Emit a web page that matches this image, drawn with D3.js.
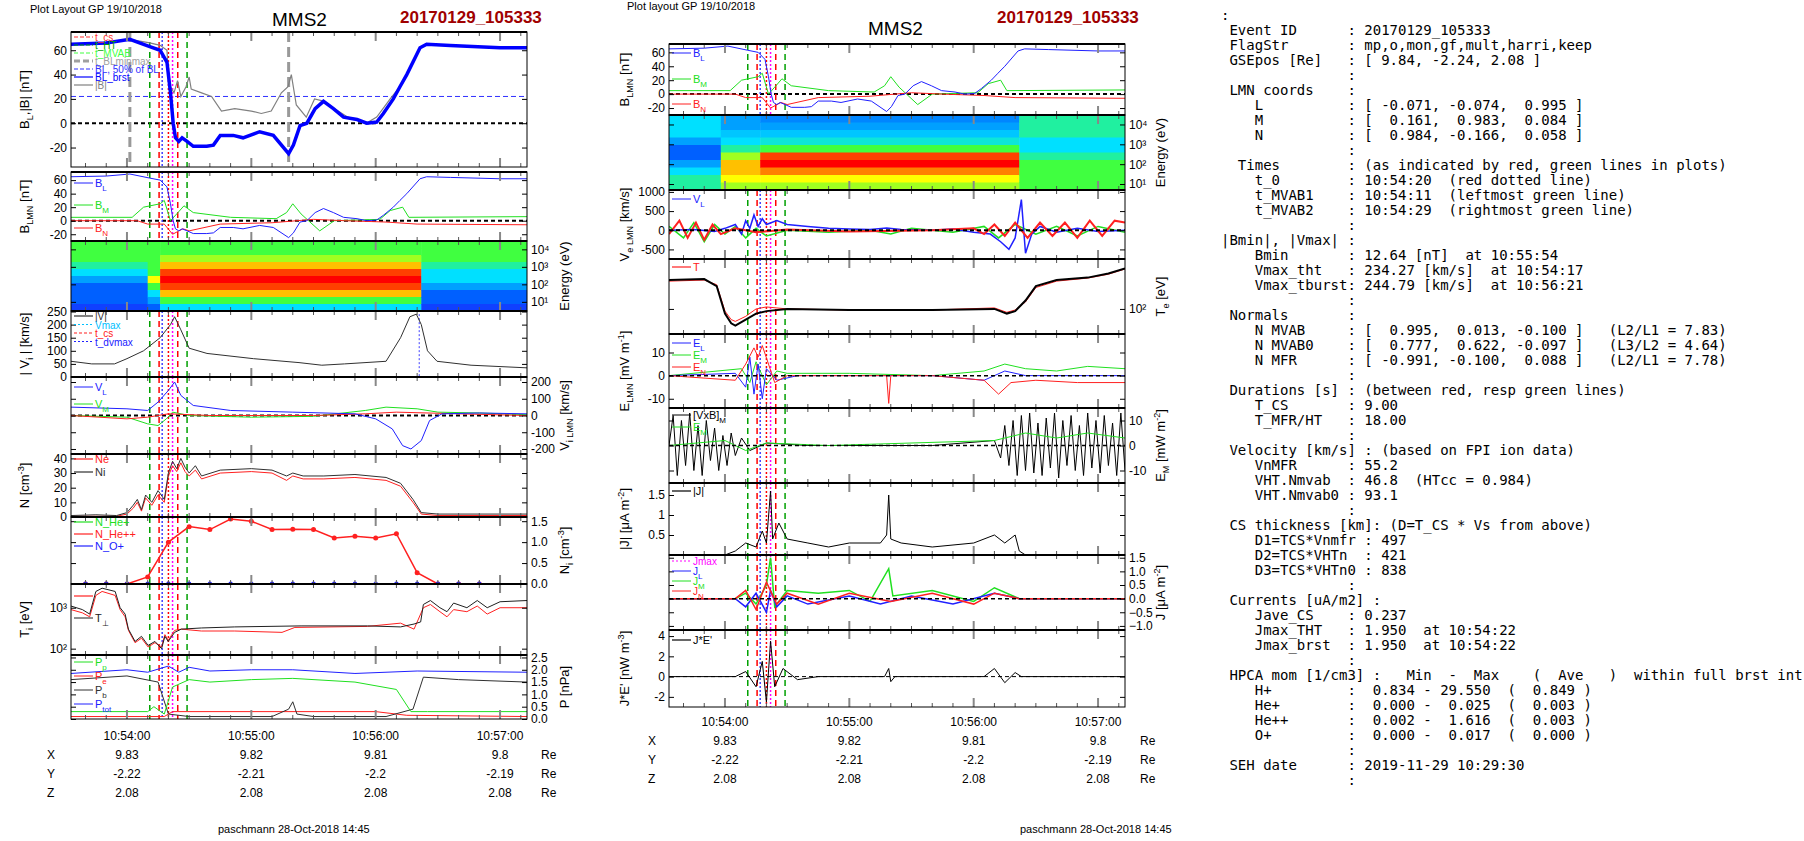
<!DOCTYPE html>
<html><head><meta charset="utf-8">
<script src="https://cdn.jsdelivr.net/npm/d3@7"></script>
<style>body{margin:0;background:#fff}svg{font-family:"Liberation Sans",Arial,sans-serif}</style>
</head><body><svg id="c" width="1804" height="841"></svg>
<script>
// ---------- data (time in seconds from 10:54:00) ----------
const timeTicks = [0, 60, 120, 180];
const timeLabels = ["10:54:00", "10:55:00", "10:56:00", "10:57:00"];
const posX = ["9.83", "9.82", "9.81", "9.8"];
const posY = ["-2.22", "-2.21", "-2.2", "-2.19"];
const posZ = ["2.08", "2.08", "2.08", "2.08"];

const BL = [[-27,65],[-10,66],[1.4,69],[11,63],[16,60],[19.3,50],[21,25],[22.3,0],[23.4,-12],[25,-15],[26.6,-12],[29,-15],[32,-19],[38.5,-19],[41.7,-18],[45,-10],[51.3,-10],[56,-12],[64,-7],[70.6,-10],[78,-25],[80.3,-18],[83.5,-2],[86.8,0],[90.8,12],[94.8,18],[99.6,12],[104.5,5],[111,3],[115.7,0],[120.5,1],[123.7,8],[128.5,20],[131.7,30],[135,40],[141.4,62],[144.6,65],[156,64],[180,62],[193,62]];
const Bmag = [[-27,65],[-10,66],[1.4,69],[11,66],[16,64],[19.3,60],[20,40],[21,30],[22.7,25],[24.4,35],[26,22],[28.5,30],[30,38],[31,28],[36,25],[40.8,22],[45.6,10],[52,12],[60,10],[64.8,8],[69.6,10],[74.5,25],[77.7,30],[79.3,40],[81.7,15],[86.5,5],[90.5,20],[95.3,18],[100,12],[106.6,5],[113,2],[116,0.5],[120.5,5],[127,20],[131.7,30],[135,40],[141.4,62],[144.6,65],[156,64],[180,62],[193,62]];
const BM = [[-27,5],[2.5,5],[8,20],[16,25],[18,30],[21,0],[24,10],[27.5,22],[32,12],[50,5],[72,3],[77,12],[80,25],[84,10],[93,-15],[100,0],[122,2],[127,15],[133,20],[136,5],[193,6]];
const BN = [[-27,0],[5,0],[10,-5],[18,-5],[22,-20],[27,-12],[30,-15],[45,-5],[70,-3],[90,2],[105,0],[125,-2],[140,-5],[193,-6]];
const Vabs = [[-27,60],[-17,50],[-6,50],[0,70],[8,100],[16,150],[21,200],[23,230],[26,180],[30,110],[38.6,90],[61,70],[83,55],[94,45],[105,50],[125,60],[132,150],[136.5,230],[139.6,240],[142,200],[145,100],[149.6,60],[166,45],[193,35]];
const VL = [[-27,50],[0,40],[10,30],[15,80],[20,150],[23,200],[26,120],[32,60],[50,30],[80,20],[110,10],[120,-20],[128,-80],[133,-180],[137,-200],[142,-150],[146,-30],[152,10],[170,15],[193,10]];
const VM = [[-27,0],[0,-10],[10,-50],[15,-60],[19,-20],[22,20],[30,0],[60,-10],[90,-5],[115,30],[125,50],[140,40],[150,20],[170,15],[193,5]];
const VN = [[-27,0],[0,-20],[10,-10],[20,10],[40,0],[90,0],[115,10],[130,20],[160,10],[193,0]];
const Ni = [[-27,1],[-15,1.5],[-5,1],[0,3],[3,8],[5,12],[7,5],[9,15],[12,10],[15,18],[18,12],[20,30],[22,38],[24,33],[26,40],[28,34],[30,30],[33,35],[36,28],[45,32],[60,33],[70,32],[77,28],[80,30],[85,28],[95,28],[110,29],[125,27],[132,23],[138,12],[142,3],[150,2],[193,2]];
const Ne = [[-27,0.5],[-15,0.5],[-5,0.5],[0,2],[3,6],[5,10],[7,4],[9,13],[12,8],[15,15],[18,10],[20,28],[22,35],[24,31],[26,37],[28,31],[30,28],[33,32],[36,26],[45,30],[60,31],[70,30],[77,25],[80,28],[85,26],[95,26],[110,27],[125,25],[132,21],[138,10],[142,2],[150,1],[193,1]];
const hpcaT = [-20,-10,0,10,20,30,40,50,60,70,80,90,100,110,120,130,140,150,160,170];
const NHepp = [0,0,0,0.17,1.0,1.37,1.3,1.55,1.5,1.3,1.31,1.3,1.1,1.14,1.1,1.2,0.27,0,0,0];
const NOp = [0.005,0.005,0.005,0.005,0.005,0.005,0.005,0.005,0.005,0.005,0.005,0.005,0.005,0.005,0.005,0.005,0.005,0.005,0.005,0.005];
const TiPerp = [[-27,1100],[-21.5,900],[-18,700],[-15,2500],[-12,3000],[-5.7,2500],[-3.3,1000],[-0.9,700],[0.7,300],[3.9,150],[7,200],[10.2,120],[13.5,150],[16.7,100],[18.3,200],[19.9,150],[23,250],[26.2,300],[35.9,320],[52,340],[84,360],[116,360],[132,340],[138.5,400],[141.7,450],[143,1200],[146.4,1500],[151,1000],[154.4,800],[157.6,1300],[164,1000],[169,1500],[173.8,1000],[180,1400],[193,1500]];
const TiPar = [[-27,900],[-21.5,750],[-18,600],[-15,2000],[-12,2500],[-5.7,2000],[-3.3,900],[-0.9,600],[0.7,280],[3.9,140],[7,180],[10.2,110],[13.5,140],[16.7,110],[18.3,220],[19.9,160],[23,280],[26.2,300],[35.9,270],[52,270],[74.8,250],[81,330],[116,350],[132,420],[138.5,300],[143,1000],[146.4,1200],[151,800],[154.4,600],[157.6,900],[164,800],[169,1100],[173.8,700],[180,1000],[193,1000]];
const Ptot = [[-27,1.85],[0,2.0],[10,1.9],[20,2.15],[25,1.9],[30,2.1],[40,1.95],[60,2.0],[80,2.0],[110,1.85],[140,1.95],[193,1.9]];
const Pp = [[-27,0.3],[10,0.3],[13,0.5],[18,0.2],[22,1.3],[30,1.6],[40,1.5],[60,1.6],[80,1.65],[110,1.5],[130,1.2],[137,0.3],[145,0.3],[193,0.3]];
const Pb = [[-27,1.6],[0,1.75],[15,1.5],[20,0.2],[30,0.1],[70,0.1],[78,0.4],[80,0.7],[82,0.2],[90,0.1],[125,0.1],[138,0.4],[143,1.7],[160,1.6],[193,1.5]];
const Pe = [[-27,0.1],[18,0.1],[22,0.3],[60,0.3],[120,0.3],[135,0.15],[193,0.1]];
// spectrogram segments: [tStart, tEnd, levels high->low energy (0..6)]
const ionSpec = [[-27,10,[3,3,3,2.5,2,1.5,1,1,1,0.5]],[10,16,[3,3,3,3,3,4,3,2,1.5,1]],[16,142,[3,3,3.5,4.5,5.5,6,5.5,4.5,3,2]],[142,193,[3,3,3,2.5,2,2,1.5,1,1,0.5]]];
const eleSpec = [[-27,-2,[2,2,2,1.5,1,1,1.5,2,2.5,2.5]],[-2,17,[1.5,1.5,1.8,2,2.5,3.5,4.5,4.5,4,3.5]],[17,142,[1.3,1.5,1.8,2.2,3,5.5,6,5,4,3.5]],[142,193,[2.5,2.5,2.5,2,2,2.5,3,3,3,3]]];
const VeL = [[-27,0],[-15,20],[-5,-30],[0,50],[5,150],[8,-100],[10,250],[12,50],[14,400],[16,100],[18,300],[20,150],[25,250],[30,150],[40,100],[50,50],[60,30],[70,20],[78,60],[85,20],[100,0],[110,30],[120,-50],[128,-100],[133,-300],[137,-500],[140,-200],[143,800],[145,-600],[148,-100],[152,100],[160,-50],[170,50],[180,-30],[193,0]];
const VeM = [[-27,100],[-20,-200],[-15,200],[-10,-300],[-5,150],[0,-100],[5,100],[10,-200],[15,50],[20,-150],[30,0],[50,-50],[70,0],[80,-100],[90,50],[110,-50],[125,100],[132,-200],[140,150],[150,-100],[160,100],[170,-150],[180,100],[193,-50]];
const VeN = [[-27,-100],[-22,250],[-18,-200],[-14,200],[-10,-250],[-6,150],[-2,-100],[5,50],[15,-50],[30,20],[60,-30],[100,0],[120,50],[125,-100],[130,150],[135,-150],[140,200],[146,-200],[152,200],[158,-150],[164,200],[170,-200],[176,250],[182,-150],[188,250],[193,200]];
const TeBlk = [[-27,400],[-10,420],[-4,300],[0,80],[3,50],[5,45],[10,60],[15,80],[20,90],[30,100],[60,95],[100,95],[130,100],[136,80],[140,90],[145,150],[150,300],[160,400],[175,450],[185,550],[193,700]];
const TeRed = [[-27,380],[-10,400],[-4,320],[0,90],[3,60],[5,55],[10,70],[15,100],[20,110],[30,100],[60,95],[100,95],[130,105],[136,85],[140,95],[145,140],[150,280],[160,380],[175,440],[185,530],[193,680]];
const EL = [[-27,0],[5,1],[10,-5],[12,8],[14,-8],[16,5],[18,-10],[20,3],[25,-2],[35,0],[100,0],[125,-2],[135,2],[145,0],[193,0]];
const EM = [[-27,0],[8,3],[12,-3],[15,6],[20,-4],[25,2],[30,1],[60,1],[100,0],[125,2],[135,5],[145,3],[160,2],[175,4],[193,3]];
const EN = [[-27,0],[5,-2],[10,5],[14,12],[16,8],[18,13],[21,5],[24,-3],[30,0],[60,0],[78,0],[79,-12],[80,0],[100,0],[125,-2],[132,-8],[138,-3],[150,-2],[170,-3],[193,-3]];
const EMblk = [[-27,0],[-25,12],[-23,-12],[-21,10],[-19,-8],[-17,13],[-15,-10],[-13,8],[-11,-12],[-9,10],[-7,-6],[-5,7],[-3,-10],[-1,4],[1,-8],[3,5],[5,-4],[8,3],[12,-2],[20,1],[40,0],[100,0],[130,2],[133,-5],[135,8],[137,-8],[139,10],[141,-12],[143,12],[145,-10],[147,13],[149,-11],[151,9],[153,-12],[155,11],[157,-9],[159,13],[161,-13],[163,10],[165,-8],[167,12],[169,-10],[171,8],[173,-12],[175,13],[177,-9],[179,10],[181,-11],[183,12],[185,-8],[187,9],[189,-12],[191,13],[193,-10]];
const EMgrn = [[-27,0],[0,2],[10,-2],[20,1],[50,0],[130,2],[145,5],[160,3],[175,5],[193,3]];
const Jabs = [[-27,0],[0,0],[5,0.1],[10,0.3],[15,0.2],[18,0.6],[20,0.3],[22,1.6],[23,0.4],[26,0.8],[30,0.4],[40,0.3],[50,0.2],[60,0.3],[75,0.3],[78,0.5],[79,1.5],[80,0.4],[85,0.3],[100,0.2],[120,0.3],[130,0.5],[135,0.3],[140,0.5],[142,0.1],[145,0],[193,0]];
const JL = [[-27,0],[5,0],[10,-0.3],[15,0.2],[20,-0.5],[22,0.3],[25,-0.3],[30,0.1],[40,-0.2],[60,0.1],[75,-0.2],[90,0.1],[110,-0.2],[130,0.2],[142,0],[193,0]];
const JM = [[-27,0],[5,0],[10,0.2],[15,-0.2],[20,0.5],[22,1.5],[24,-0.3],[30,0.3],[45,0.2],[60,0.3],[70,-0.1],[79,1.1],[81,0.1],[100,0.3],[120,-0.1],[130,0.4],[142,0],[193,0]];
const JN = [[-27,0],[5,0],[10,0.3],[15,-0.4],[20,0.6],[25,-0.2],[30,0.2],[45,-0.2],[60,0.2],[80,-0.1],[100,0.2],[120,-0.2],[130,0.2],[142,0],[193,0]];
const JE = [[-27,0],[5,0],[10,0.5],[15,-1],[18,1.5],[20,-2.5],[22,3.5],[24,-1],[28,0.8],[35,-0.3],[45,0],[77,0],[79,0.8],[80,-0.5],[82,0],[125,0],[130,0.8],[135,-0.6],[140,0.4],[143,0],[193,0]];
const eventLines = [[11,"#00a000","6,4"],[15.5,"#ff0000","6,4"],[17,"#4040ff","2,2"],[20,"#ff0000","2,2"],[22,"#ff00ff","2,2"],[24.5,"#ff0000","6,4"],[29,"#00a000","6,4"]];
const textLines = [":",
" Event ID      : 20170129_105333",
" FlagStr       : mp,o,mon,gf,mult,harri,keep",
" GSEpos [Re]   : [ 9.84, -2.24, 2.08 ]",
"               :",
" LMN coords    :",
"    L          : [ -0.071, -0.074,  0.995 ]",
"    M          : [  0.161,  0.983,  0.084 ]",
"    N          : [  0.984, -0.166,  0.058 ]",
"               :",
"  Times        : (as indicated by red, green lines in plots)",
"    t_0        : 10:54:20  (red dotted line)",
"    t_MVAB1    : 10:54:11  (leftmost green line)",
"    t_MVAB2    : 10:54:29  (rightmost green line)",
"               :",
"|Bmin|, |Vmax| :",
"    Bmin       : 12.64 [nT]  at 10:55:54",
"    Vmax_tht   : 234.27 [km/s]  at 10:54:17",
"    Vmax_tburst: 244.79 [km/s]  at 10:56:21",
"               :",
" Normals       :",
"    N MVAB     : [  0.995,  0.013, -0.100 ]   (L2/L1 = 7.83)",
"    N MVAB0    : [  0.777,  0.622, -0.097 ]   (L3/L2 = 4.64)",
"    N MFR      : [ -0.991, -0.100,  0.088 ]   (L2/L1 = 7.78)",
"               :",
" Durations [s] : (between red, resp green lines)",
"    T_CS       : 9.00",
"    T_MFR/HT   : 18.00",
"               :",
" Velocity [km/s] : (based on FPI ion data)",
"    VnMFR      : 55.2",
"    VHT.Nmvab  : 46.8  (HTcc = 0.984)",
"    VHT.Nmvab0 : 93.1",
"               :",
" CS thickness [km]: (D=T_CS * Vs from above)",
"    D1=TCS*Vnmfr : 497",
"    D2=TCS*VHTn  : 421",
"    D3=TCS*VHTn0 : 838",
"               :",
" Currents [uA/m2] :",
"    Jave_CS    : 0.237",
"    Jmax_THT   : 1.950  at 10:54:22",
"    Jmax_brst  : 1.950  at 10:54:22",
"               :",
" HPCA mom [1/cm3] :   Min  -  Max    (  Ave   )  within full brst int",
"    H+         :  0.834 - 29.550  (  0.849 )",
"    He+        :  0.000 -  0.025  (  0.003 )",
"    He++       :  0.002 -  1.616  (  0.003 )",
"    O+         :  0.000 -  0.017  (  0.000 )",
"               :",
" SEH date      : 2019-11-29 10:29:30",
"               :"];

// ---------- drawing helpers ----------
const svg = d3.select("#c");
const specColor = d3.scaleLinear().domain([0,1,2,3,4,5,6]).range(["#2020ff","#0060ff","#00e0ff","#40ff40","#ffff00","#ff8000","#ff0000"]).clamp(true);

function mkLabel(g, x, y, parts, size){
  const t = g.append("text").attr("transform",`translate(${x},${y}) rotate(-90)`).attr("text-anchor","middle").attr("font-size",size||13);
  parts.forEach(p=>{
    const s = typeof p==="string"?[p,null]:p;
    const ts = t.append("tspan").text(s[0]);
    if(s[1]==="sub") ts.attr("font-size",(size||13)*0.7).attr("dy",4);
    else if(s[1]==="sup") ts.attr("font-size",(size||13)*0.7).attr("dy",-5);
    else if(s[1]==="back") ts.attr("dy",s[2]);
  });
}
function panel(o){
  const g = svg.append("g");
  const x = o.x;
  const [x0,x1] = x.range();
  const y = (o.log?d3.scaleLog():d3.scaleLinear()).domain(o.domain).range([o.y1,o.y0]);
  g.append("defs").append("clipPath").attr("id",o.id).append("rect").attr("x",x0).attr("y",o.y0).attr("width",x1-x0).attr("height",o.y1-o.y0);
  const body = g.append("g").attr("clip-path",`url(#${o.id})`);
  for(let t=-20;t<=190;t+=10){
    const major = (t%60===0);
    const L = major?9:4;
    [o.y0,o.y1].forEach((yy,i)=>{
      g.append("line").attr("x1",x(t)).attr("x2",x(t)).attr("y1",yy).attr("y2",i?yy-L:yy+L)
        .attr("stroke",major?"#888":"#555").attr("stroke-width",major?2:1);
    });
  }
  const ax = (o.side==="right"?d3.axisRight(y):d3.axisLeft(y)).tickValues(o.ticks).tickSizeInner(-5).tickSizeOuter(0).tickPadding(4).tickFormat(o.fmt||(d=>d));
  const ag = g.append("g").attr("transform",`translate(${o.side==="right"?x1:x0},0)`).call(ax);
  ag.select(".domain").remove();
  ag.selectAll("text").attr("font-size",12).attr("font-family","Liberation Sans,Arial");
  const ax2 = (o.side==="right"?d3.axisLeft(y):d3.axisRight(y)).tickValues(o.ticks).tickSize(-5).tickFormat("");
  const ag2 = g.append("g").attr("transform",`translate(${o.side==="right"?x0:x1},0)`).call(ax2);
  ag2.select(".domain").remove();
  g.append("rect").attr("x",x0).attr("y",o.y0).attr("width",x1-x0).attr("height",o.y1-o.y0).attr("fill","none").attr("stroke","#000");
  g.append("line").attr("x1",x0).attr("x2",x1).attr("y1",o.y0).attr("y2",o.y0).attr("stroke","#000").attr("stroke-width",2);
  if(o.label) mkLabel(g, o.side==="right"?x1+o.labOff:x0-o.labOff, (o.y0+o.y1)/2, o.label, 13);
  return {g, body, y, x};
}
function line(p, data, color, w, dash){
  p.body.append("path").datum(data).attr("fill","none").attr("stroke",color).attr("stroke-width",w||1).attr("stroke-dasharray",dash||null)
   .attr("d", d3.line().x(d=>p.x(d[0])).y(d=>p.y(d[1])));
}
function hline(p, v, color, dash, w){
  const [a,b]=p.x.range();
  p.body.append("line").attr("x1",a).attr("x2",b).attr("y1",p.y(v)).attr("y2",p.y(v)).attr("stroke",color).attr("stroke-dasharray",dash).attr("stroke-width",w||1);
}
function events(p){
  eventLines.forEach(e=>{
    p.body.append("line").attr("x1",p.x(e[0])).attr("x2",p.x(e[0])).attr("y1",p.y.range()[1]).attr("y2",p.y.range()[0])
      .attr("stroke",e[1]).attr("stroke-dasharray",e[2]).attr("stroke-width",1.5);
  });
}
function legend(p, items, yStart, step, fs){
  const x0 = p.x.range()[0];
  items.forEach((it,i)=>{
    const yy = yStart+i*(step||11);
    p.g.append("line").attr("x1",x0+3).attr("x2",x0+22).attr("y1",yy).attr("y2",yy).attr("stroke",it[1]).attr("stroke-width",it[3]||1.2).attr("stroke-dasharray",it[2]||null);
    const t = p.g.append("text").attr("x",x0+24).attr("y",yy+4).attr("font-size",fs||11).attr("fill",it[4]||it[1]);
    t.append("tspan").text(it[0]);
    if(it[5]) t.append("tspan").attr("font-size",8).attr("dy",4).text(it[5]);
  });
}
function spectro(p, segs){
  segs.forEach(s=>{
    const lv=s[2], n=lv.length;
    const [ya,yb]=[p.y.range()[1],p.y.range()[0]];
    lv.forEach((v,i)=>{
      p.body.append("rect").attr("x",p.x(s[0])).attr("width",p.x(s[1])-p.x(s[0])+0.5)
        .attr("y",ya+(yb-ya)*i/n).attr("height",(yb-ya)/n+0.5).attr("fill",specColor(v));
    });
  });
}
const sup10 = d=>"10"+"⁰¹²³⁴⁵"[Math.round(Math.log10(d))];
const T = [-27,193];

// ---------- LEFT column ----------
const xl = d3.scaleLinear().domain(T).range([71,527]);
svg.append("text").attr("x",30).attr("y",13).attr("font-size",11).text("Plot Layout GP 19/10/2018");
svg.append("text").attr("x",272).attr("y",26).attr("font-size",19).text("MMS2");
svg.append("text").attr("x",400).attr("y",23).attr("font-size",17).attr("font-weight","bold").attr("fill","#a00000").text("20170129_105333");

let p = panel({id:"l1",x:xl,y0:32,y1:167,domain:[-36,75],ticks:[-20,0,20,40,60],label:["B",["L","sub"],[",|B| [nT]","back",-4]],labOff:42});
hline(p,22,"#3030ff","5,3"); hline(p,0,"#000","4,3",2);
events(p);
[1.4,78].forEach(t=>p.body.append("line").attr("x1",xl(t)).attr("x2",xl(t)).attr("y1",32).attr("y2",167).attr("stroke","#999").attr("stroke-width",3).attr("stroke-dasharray","10,5"));
line(p,Bmag,"#808080",1.2); line(p,BL,"#0000ff",3.5);
legend(p,[["t_cs","#ff3030","4,2"],["t_HT","#00a000","4,2"],["t_MVAB","#40ff40","4,2"],["t_BLminmax","#a0a0a0","6,3",3],["BL, 50% of BL","#3030ff","4,2"],["BL_brst","#0000ff"],["|B|","#808080"]],37,8,10);

p = panel({id:"l2",x:xl,y0:172,y1:241,domain:[-30,72],ticks:[-20,0,20,40,60],label:["B",["LMN","sub"],[" [nT]","back",-4]],labOff:42});
hline(p,0,"#000","4,3",2); events(p);
line(p,BM,"#20e020"); line(p,BN,"#ff2020"); line(p,BL,"#2020ff");
legend(p,[["B","#2020ff",null,1,null,"L"]],183); legend(p,[["B","#20e020",null,1,null,"M"]],205); legend(p,[["B","#ff2020",null,1,null,"N"]],228);

p = panel({id:"l3",x:xl,y0:241,y1:311,domain:[3,30000],log:true,ticks:[10,100,1000,10000],fmt:sup10,side:"right",label:["Energy (eV)"],labOff:42});
spectro(p,ionSpec);

p = panel({id:"l4",x:xl,y0:311,y1:377,domain:[0,252],ticks:[0,50,100,150,200,250],label:["| V",["i","sub"],[" | [km/s]","back",-4]],labOff:42});
events(p);
p.body.append("line").attr("x1",xl(141)).attr("x2",xl(141)).attr("y1",p.y(240)).attr("y2",377).attr("stroke","#4040ff").attr("stroke-dasharray","2,2");
line(p,Vabs,"#303030");
legend(p,[["|V|","#303030"],["Vmax","#00c0ff","2,2"],["t_cs","#ff2020","3,2"],["t_dvmax","#2020ff","2,2"]],316,8.5,10);

p = panel({id:"l5",x:xl,y0:377,y1:454,domain:[-230,230],ticks:[-200,-100,0,100,200],side:"right",label:["V",["i LMN","sub"],[" [km/s]","back",-4]],labOff:42});
hline(p,0,"#000","4,3",2); events(p);
line(p,VM,"#20e020"); line(p,VN,"#ff2020"); line(p,VL,"#2020ff");
legend(p,[["V","#2020ff",null,1,null,"L"]],387); legend(p,[["V","#20e020",null,1,null,"M"]],404);

p = panel({id:"l6",x:xl,y0:454,y1:517,domain:[0,43],ticks:[0,10,20,30,40],label:["N [cm",["-3","sup"],["]","back",5]],labOff:42});
events(p); line(p,Ne,"#ff2020"); line(p,Ni,"#303030");
legend(p,[["Ne","#ff2020"],["Ni","#303030"]],459,13);

p = panel({id:"l7",x:xl,y0:517,y1:584,domain:[0,1.6],ticks:[0,0.5,1.0,1.5],fmt:d3.format(".1f"),side:"right",label:["N",["i","sub"],[" [cm","back",-4],["-3","sup"],["]","back",5]],labOff:42});
events(p);
const hpO = hpcaT.map((t,i)=>[t,NOp[i]]), hpHe = hpcaT.map((t,i)=>[t,NHepp[i]]);
line(p,hpO,"#2020ff",1.5); line(p,hpHe,"#ff2020",1.5);
hpHe.forEach(d=>p.body.append("circle").attr("cx",xl(d[0])).attr("cy",p.y(d[1])).attr("r",2.5).attr("fill","#ff2020"));
hpO.forEach(d=>p.body.append("circle").attr("cx",xl(d[0])).attr("cy",p.y(d[1])).attr("r",2.2).attr("fill","#2020ff"));
legend(p,[["N_He+","#20e020"],["N_He++","#ff2020"],["N_O+","#2020ff"]],522,12);

p = panel({id:"l8",x:xl,y0:584,y1:655,domain:[70,3800],log:true,ticks:[100,1000],fmt:sup10,label:["T",["i","sub"],[" [eV]","back",-4]],labOff:42});
events(p); line(p,TiPar,"#ff2020"); line(p,TiPerp,"#202020");
legend(p,[["","#ff2020"]],596); legend(p,[["T","#202020",null,1,"#202020","⊥"]],618);

p = panel({id:"l9",x:xl,y0:655,y1:719,domain:[0,2.6],ticks:[0,0.5,1.0,1.5,2.0,2.5],fmt:d3.format(".1f"),side:"right",label:["P [nPa]"],labOff:42});
events(p); line(p,Pe,"#ff2020"); line(p,Pb,"#303030"); line(p,Pp,"#20e020"); line(p,Ptot,"#2020ff");
legend(p,[["P","#20e020",null,1,null,"p"],["P","#ff2020",null,1,null,"e"],["P","#303030",null,1,null,"b"],["P","#2020ff",null,1,null,"tot"]],662,14);

function posRows(x, xl0, xRe, yT, dy){
  const g = svg.append("g").attr("font-size",12);
  timeTicks.forEach((t,i)=>g.append("text").attr("x",x(t)).attr("y",yT).attr("text-anchor","middle").text(timeLabels[i]));
  [["X",posX],["Y",posY],["Z",posZ]].forEach((r,j)=>{
    const yy = yT+dy*(j+1);
    g.append("text").attr("x",xl0).attr("y",yy).text(r[0]);
    r[1].forEach((v,i)=>g.append("text").attr("x",x(timeTicks[i])).attr("y",yy).attr("text-anchor","middle").text(v));
    g.append("text").attr("x",xRe).attr("y",yy).text("Re");
  });
}
posRows(xl,47,541,740,19);
svg.append("text").attr("x",218).attr("y",833).attr("font-size",11).text("paschmann 28-Oct-2018 14:45");

// ---------- MIDDLE column ----------
const xm = d3.scaleLinear().domain(T).range([669,1125]);
svg.append("text").attr("x",627).attr("y",10).attr("font-size",11).text("Plot layout GP 19/10/2018");
svg.append("text").attr("x",868).attr("y",35).attr("font-size",19).text("MMS2");
svg.append("text").attr("x",997).attr("y",23).attr("font-size",17).attr("font-weight","bold").attr("fill","#a00000").text("20170129_105333");

p = panel({id:"m1",x:xm,y0:44,y1:115,domain:[-30,72],ticks:[-20,0,20,40,60],label:["B",["LMN","sub"],[" [nT]","back",-4]],labOff:40});
hline(p,0,"#000","4,3",2); events(p);
line(p,BM,"#20e020"); line(p,BN,"#ff2020"); line(p,BL,"#2020ff");
legend(p,[["B","#2020ff",null,1,null,"L"]],53); legend(p,[["B","#20e020",null,1,null,"M"]],79); legend(p,[["B","#ff2020",null,1,null,"N"]],104);

p = panel({id:"m2",x:xm,y0:115,y1:190,domain:[5,30000],log:true,ticks:[10,100,1000,10000],fmt:sup10,side:"right",label:["Energy (eV)"],labOff:40});
spectro(p,eleSpec);

p = panel({id:"m3",x:xm,y0:190,y1:259,domain:[-750,1050],ticks:[-500,0,500,1000],label:["V",["e LMN","sub"],[" [km/s]","back",-4]],labOff:40});
events(p); line(p,VeM,"#20e020",1.5); line(p,VeL,"#2020ff",1.5); line(p,VeN,"#ff2020",2); hline(p,0,"#000","4,3",2);
legend(p,[["V","#2020ff",null,1,null,"L"]],199);

p = panel({id:"m4",x:xm,y0:259,y1:334,domain:[30,1100],log:true,ticks:[100],fmt:sup10,side:"right",label:["T",["e","sub"],[" [eV]","back",-4]],labOff:40});
events(p); line(p,TeRed,"#ff2020"); line(p,TeBlk,"#000",2);
legend(p,[["T","#ff2020"]],267);

p = panel({id:"m5",x:xm,y0:334,y1:408,domain:[-14,18],ticks:[-10,0,10],label:["E",["LMN","sub"],[" [mV m","back",-4],["-1","sup"],["]","back",5]],labOff:40});
events(p); line(p,EM,"#20e020"); line(p,EL,"#2020ff"); line(p,EN,"#ff2020"); hline(p,0,"#000","4,3",1.5);
legend(p,[["E","#2020ff",null,1,null,"L"],["E","#20e020",null,1,null,"M"],["E","#ff2020",null,1,null,"N"]],343,12);

p = panel({id:"m6",x:xm,y0:408,y1:483,domain:[-15,15],ticks:[-10,0,10],side:"right",label:["E",["M","sub"],[" [mW m","back",-4],["-2","sup"],["]","back",5]],labOff:40});
events(p); line(p,EMblk,"#000"); line(p,EMgrn,"#20e020"); hline(p,0,"#000","4,3",1.5);
legend(p,[["[VxB]","#000",null,1,"#000","M"],["E","#20e020",null,1,null,"M"]],415,12);

p = panel({id:"m7",x:xm,y0:483,y1:555,domain:[0,1.8],ticks:[0.5,1.0,1.5],fmt:d => d===1?"1":d,label:["|J| [μA m",["-2","sup"],["]","back",5]],labOff:40});
events(p); line(p,Jabs,"#000");
legend(p,[["|J|","#000"]],491);

p = panel({id:"m8",x:xm,y0:555,y1:630,domain:[-1.15,1.6],ticks:[-1.0,-0.5,0,0.5,1.0,1.5],fmt:d3.format(".1f"),side:"right",label:["J [μA m",["-2","sup"],["]","back",5]],labOff:40});
events(p); line(p,JM,"#20e020",1.5); line(p,JL,"#2020ff",1.5); line(p,JN,"#ff2020",1.5); hline(p,0,"#000","4,3",1.5);
legend(p,[["Jmax","#ff00ff","2,2"],["J","#2020ff",null,1,null,"L"],["J","#20e020",null,1,null,"M"],["J","#ff2020",null,1,null,"N"]],561,10,10);

p = panel({id:"m9",x:xm,y0:630,y1:707,domain:[-3,4.6],ticks:[-2,0,2,4],label:["J*E' [nW m",["-3","sup"],["]","back",5]],labOff:40});
events(p); line(p,JE,"#000"); hline(p,0,"#000","4,3",1);
legend(p,[["J*E'","#000"]],640);

posRows(xm,648,1140,726,19);
svg.append("text").attr("x",1020).attr("y",833).attr("font-size",11).text("paschmann 28-Oct-2018 14:45");

// ---------- RIGHT text ----------
const tg = svg.append("g").attr("font-family","DejaVu Sans Mono, monospace").attr("font-size",14);
textLines.forEach((s,i)=>{
  tg.append("text").attr("x",1221).attr("y",(i===0?20:35+(i-1)*15.0)).style("white-space","pre").text(s);
});
</script></body></html>
